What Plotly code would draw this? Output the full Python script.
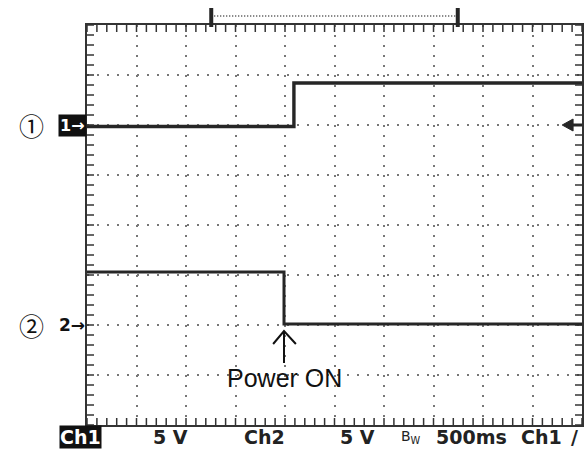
import numpy as np
import plotly.graph_objects as go

# ---- data ----
# time in seconds (500 ms/div, 10 div), voltage in volts (5 V/div)
ch1_t = [0.0, 2.09, 2.09, 5.0]
ch1_v = [-0.15, -0.15, 4.2, 4.2]
ch2_t = [0.0, 1.99, 1.99, 5.0]
ch2_v = [5.3, 5.3, 0.1, 0.1]
power_on_t = 1.99
window_start, window_end = 1.255, 3.745
trig_t = 4.8
trig_level = 0.0

bottom_labels = ["5 V", "Ch2", "5 V", "B<sub>W</sub>", "500ms", "Ch1", "/"]
bottom_pos = [0.1687, 0.359, 0.547, 0.655, 0.777, 0.918, 0.984]

# graticule: 10 x 8 divisions, 5 minor subdivisions each
T_RANGE = [0, 5]
V_RANGE = [-30, 10]
minor_t = np.round(np.arange(0, 5.0001, 0.1), 3)
minor_v = np.arange(-30, 10.0001, 1.0)

W, H = 586, 452
ML, MR, MT, MB = 87, 2, 25, 27
INK = "#262626"

fig = go.Figure()
fig.add_trace(go.Scatter(x=ch1_t, y=ch1_v, mode="lines", yaxis="y",
                         line=dict(color=INK, width=3.4), hoverinfo="skip"))
fig.add_trace(go.Scatter(x=ch2_t, y=ch2_v, mode="lines", yaxis="y2",
                         line=dict(color=INK, width=3), hoverinfo="skip"))

# minor graticule tick marks along the frame (clipped to the plot area)
tickmk = dict(size=10, color="#333", line=dict(width=1.5, color="#333"))
for ys in (V_RANGE[0], V_RANGE[1]):
    fig.add_trace(go.Scatter(x=minor_t, y=[ys] * len(minor_t), mode="markers",
                             marker=dict(symbol="line-ns", **tickmk), hoverinfo="skip"))
for xs in (T_RANGE[0], T_RANGE[1]):
    fig.add_trace(go.Scatter(x=[xs] * len(minor_v), y=minor_v, mode="markers",
                             marker=dict(symbol="line-ew", **tickmk), hoverinfo="skip"))

grid = dict(showline=True, linecolor="#333", linewidth=2, mirror=True,
            ticks="", showticklabels=False, zeroline=False,
            showgrid=True, gridcolor="#777", gridwidth=2, griddash="2px,8px")

fig.update_layout(
    width=W, height=H, margin=dict(l=ML, r=MR, t=MT, b=MB),
    paper_bgcolor="white", plot_bgcolor="white", showlegend=False,
    xaxis=dict(range=T_RANGE, dtick=0.5, tick0=0, **grid),
    yaxis=dict(range=V_RANGE, dtick=5, tick0=0, **grid),
    yaxis2=dict(range=[-10, 30], overlaying="y", visible=False),
)

# trigger memory window bracket on top
fig.add_shape(type="line", xref="x", yref="paper", x0=window_start, x1=window_end,
              y0=1.0225, y1=1.0225, line=dict(color="#333", width=1.5, dash="1px,2px"))
for xb in (window_start, window_end):
    fig.add_shape(type="line", xref="x", yref="paper", x0=xb, x1=xb,
                  y0=0.995, y1=1.0425, line=dict(color=INK, width=4))

# Power ON arrow (open chevron) below ch2 step
fig.add_shape(type="path", xref="x", yref="y2",
              path=f"M {power_on_t},-0.6 L {power_on_t},-3.8 "
                   f"M {power_on_t-0.11},-1.9 L {power_on_t},-0.6 L {power_on_t+0.12},-1.9",
              line=dict(color="#111", width=2))
fig.add_annotation(x=power_on_t, y=-5.3, xref="x", yref="y2", text="Power ON",
                   showarrow=False, xanchor="center", yanchor="middle",
                   font=dict(family="Liberation Sans, Arial", size=25, color="#111"))

# trigger level arrow on the right (filled head + shaft)
fig.add_shape(type="path", xref="x", yref="y",
              path=f"M {trig_t},{trig_level} L {trig_t+0.11},{trig_level+0.6} "
                   f"L {trig_t+0.11},{trig_level-0.6} Z",
              fillcolor=INK, line=dict(color=INK, width=1))
fig.add_shape(type="line", xref="x", yref="y", x0=trig_t + 0.1, x1=T_RANGE[1],
              y0=trig_level, y1=trig_level, line=dict(color=INK, width=3))

# channel markers on the left
fig.add_annotation(x=0, y=0, xref="paper", yref="y", text="<b>1→</b>", showarrow=False,
                   xanchor="right", yanchor="middle", bgcolor="#111", borderpad=1,
                   font=dict(family="DejaVu Sans", size=16, color="white"))
fig.add_annotation(x=0, y=0, xref="paper", yref="y2", text="<b>2→</b>", showarrow=False,
                   xanchor="right", yanchor="middle",
                   font=dict(family="DejaVu Sans", size=17, color="#111"))
for txt, yr in (("①", "y"), ("②", "y2")):
    fig.add_annotation(x=-0.1124, y=0, xref="paper", yref=yr, text=txt, showarrow=False,
                       xanchor="center", yanchor="middle",
                       font=dict(family="Noto Sans CJK JP", size=25, color="#111"))

# bottom status line
fig.add_annotation(x=-0.0141, y=-0.031, xref="paper", yref="paper", text="<b>Ch1</b>",
                   showarrow=False, xanchor="center", yanchor="middle", bgcolor="#111",
                   borderpad=0, font=dict(family="DejaVu Sans", size=19, color="white"))
for lab, xp in zip(bottom_labels, bottom_pos):
    if "sub" in lab:
        txt, fnt = lab, dict(family="DejaVu Sans", size=14, color="#222")
    else:
        txt, fnt = f"<b>{lab}</b>", dict(family="DejaVu Sans", size=19, color="#222")
    fig.add_annotation(x=xp, y=-0.031, xref="paper", yref="paper", text=txt,
                       showarrow=False, xanchor="center", yanchor="middle", font=fnt)

fig.write_html("out.html")
